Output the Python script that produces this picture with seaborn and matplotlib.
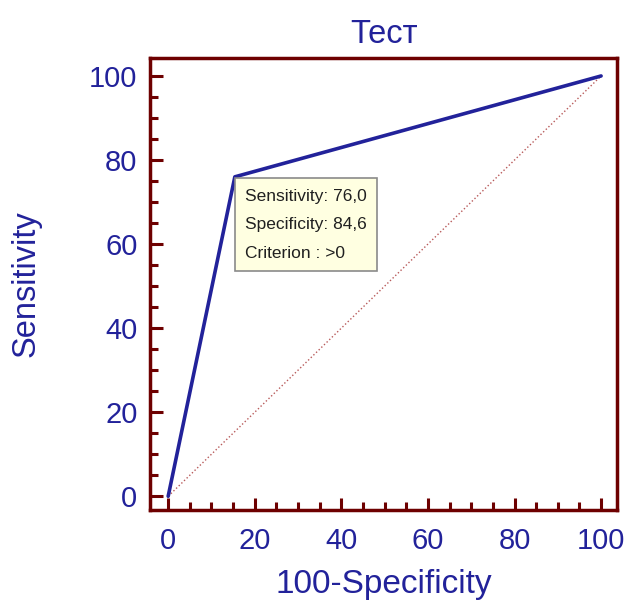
import numpy as np
import pandas as pd
import seaborn as sns
import matplotlib.pyplot as plt
from matplotlib.ticker import MultipleLocator

# ROC points (100-Specificity, Sensitivity)
fpr = [0, 15.4, 100]
tpr = [0, 76.0, 100]
criterion = '>0'
title = 'Тест'

blue = '#22229a'
dark_red = '#6e0000'

sns.set_theme(style='white')
plt.rcParams['font.family'] = ['Liberation Sans', 'DejaVu Sans']

df = pd.DataFrame({'fpr': fpr, 'tpr': tpr})

fig = plt.figure(figsize=(6.31, 6.03), dpi=100)
ax = fig.add_axes([0.2377, 0.154, 0.7403, 0.750])

# reference diagonal
sns.lineplot(x=[0, 100], y=[0, 100], ax=ax, color='#b85a5a', linewidth=1,
             linestyle=':', zorder=2)
sns.lineplot(data=df, x='fpr', y='tpr', ax=ax, color=blue, linewidth=2.6,
             sort=False, zorder=3)

ax.set_xlim(-4.2, 103.7)
ax.set_ylim(-3.3, 104.3)

ax.xaxis.set_major_locator(MultipleLocator(20))
ax.xaxis.set_minor_locator(MultipleLocator(5))
ax.yaxis.set_major_locator(MultipleLocator(20))
ax.yaxis.set_minor_locator(MultipleLocator(5))

ax.tick_params(which='both', direction='in', color=dark_red, width=2.2,
               bottom=True, left=True, top=False, right=False)
ax.tick_params(which='major', length=9, labelsize=21, labelcolor=blue)
ax.tick_params(axis='x', which='major', pad=12)
ax.tick_params(axis='y', which='major', pad=9)
ax.tick_params(which='minor', length=6)

for s in ax.spines.values():
    s.set_color(dark_red)
    s.set_linewidth(2.5)

ax.set_xlabel('100-Specificity', fontsize=24, color=blue, labelpad=10)
ax.set_ylabel('Sensitivity', fontsize=23.5, color=blue, labelpad=34)
ax.set_title(title, fontsize=23.5, color=blue, pad=11)

sens = tpr[1]
spec = 100 - fpr[1]
label = (f'Sensitivity: {sens:.1f}\nSpecificity: {spec:.1f}\nCriterion : {criterion}'
         .replace('.', ','))
ax.annotate(label, xy=(fpr[1], tpr[1]), xytext=(7.5, -8.5),
            textcoords='offset points', ha='left', va='top', fontsize=12.5,
            color='#202020', linespacing=2.12, zorder=4,
            bbox=dict(boxstyle='square,pad=0.6', facecolor='#ffffe1',
                      edgecolor='#8a8a8a', linewidth=1.2))

fig.savefig('out.png', dpi=100)
